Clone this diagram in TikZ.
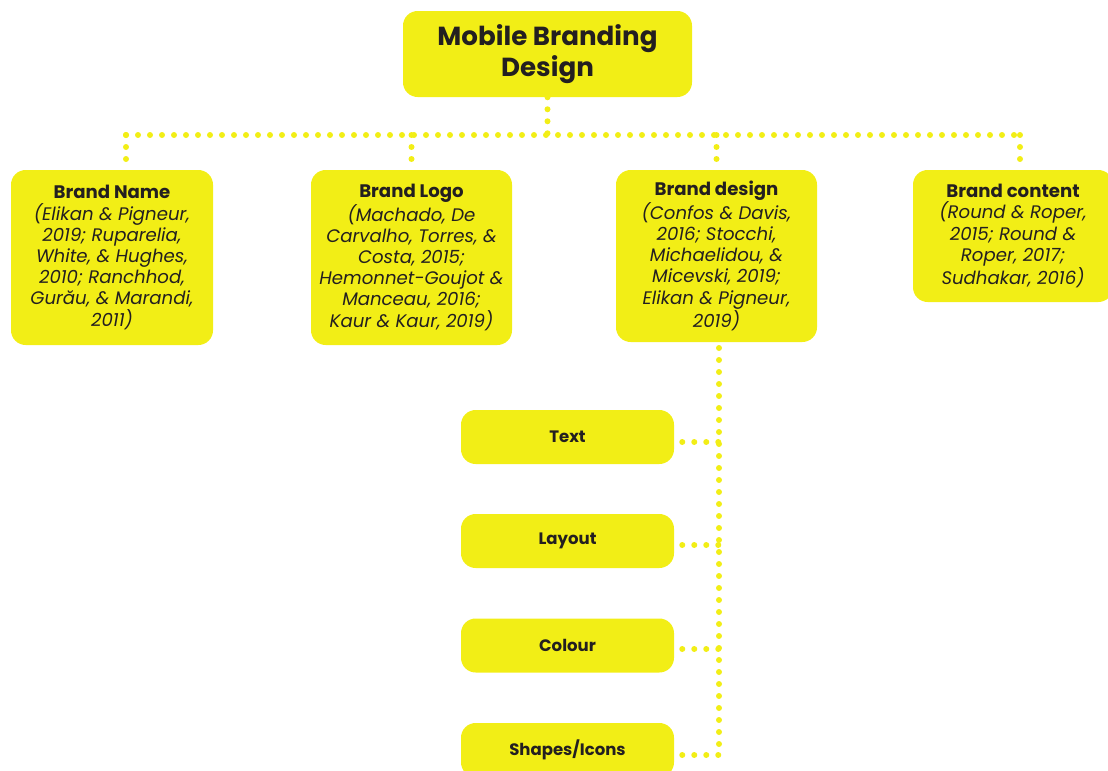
\documentclass[tikz,border=0pt]{standalone}
\usepackage{fontspec}
\setmainfont{Poppins}
\usetikzlibrary{calc}
\definecolor{brandyellow}{HTML}{F2EE16}
\definecolor{inkdark}{HTML}{231F20}
\begin{document}
\begin{tikzpicture}[x=0.75pt,y=-0.75pt,
  card/.style={fill=brandyellow, draw=none, rounded corners=11pt, align=center,
    text=inkdark, inner sep=0pt},
  topcard/.style={card, font=\fontsize{19.6}{22.8}\selectfont\bfseries,
    minimum width=216.75pt, minimum height=64.5pt},
  refcard/.style={card, font=\fontsize{13.6}{15.9}\selectfont},
  partcard/.style={card, font=\fontsize{12.4}{14}\selectfont\bfseries,
    minimum width=159.75pt, minimum height=40.5pt},
  dots/.style={draw=brandyellow, line width=4.5pt, line cap=round,
    dash pattern=on 0pt off 9pt}]

\useasboundingbox (0,0) rectangle (1108,771);

% root
\node[topcard] (root) at (547.5,54) {Mobile Branding\\Design};

% four branding areas
\node[refcard, minimum width=151.5pt, minimum height=131.25pt] (name) at (112,257.5)
  {\textbf{Brand Name}\\\itshape(Elikan \& Pigneur,\\\itshape 2019; Ruparelia,\\\itshape White, \& Hughes,\\\itshape 2010; Ranchhod,\\\itshape Gurău, \& Marandi,\\\itshape 2011)};
\node[refcard, minimum width=150.75pt, minimum height=131.25pt] (logo) at (411.5,257.5)
  {\textbf{Brand Logo}\\\itshape(Machado, De\\\itshape Carvalho, Torres, \&\\\itshape Costa, 2015;\\\itshape Hemonnet-Goujot \&\\\itshape Manceau, 2016;\\\itshape Kaur \& Kaur, 2019)};
\node[refcard, minimum width=150.75pt, minimum height=129pt] (design) at (716.5,256)
  {\textbf{Brand design}\\\itshape(Confos \& Davis,\\\itshape 2016; Stocchi,\\\itshape Michaelidou, \&\\\itshape Micevski, 2019;\\\itshape Elikan \& Pigneur,\\\itshape 2019)};
\node[refcard, minimum width=150pt, minimum height=99pt] (content) at (1013,236)
  {\textbf{Brand content}\\\itshape(Round \& Roper,\\\itshape 2015; Round \&\\\itshape Roper, 2017;\\\itshape Sudhakar, 2016)};

% design elements
\node[partcard] (text) at (567.5,437) {Text};
\node[partcard] (layout) at (567.5,541) {Layout};
\node[partcard] (colour) at (567.5,645.5) {Colour};
\node[partcard] (shapes) at (567.5,750) {Shapes/Icons};

% bus from the root to the four areas
\coordinate (busL) at (126,135);
\coordinate (busR) at (1020,135);
\draw[dots] (root.south) -- (root.south |- busL);
\draw[dots] (busL) -- (busR);
\draw[dots] (busL) -- (busL |- name.north);
\draw[dots] (logo.north |- busL) -- (logo.north);
\draw[dots] (design.north |- busL) -- (design.north);
\draw[dots] (busR) -- (busR |- content.north);

% spine from Brand design to its elements
\coordinate (spineTop) at (719,348);
\coordinate (spineEnd) at (719,755);
\draw[dots] (spineTop) -- (spineEnd);
\foreach \el/\dy in {text/5, layout/4, colour/3.5, shapes/5} {
  \draw[dots] ($(\el.east)+(8,\dy)$) -- ($(spineTop |- \el.east)+(0,\dy)$);
}
\end{tikzpicture}
\end{document}
